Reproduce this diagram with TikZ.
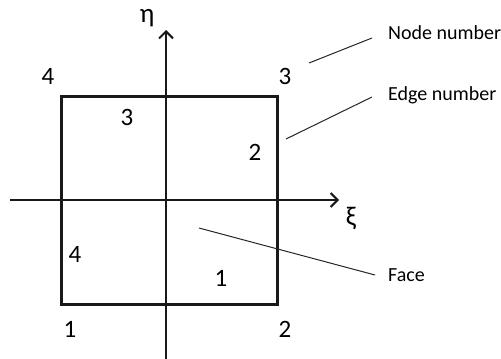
\documentclass[tikz,border=0pt]{standalone}
\usepackage{fontspec}
\setmainfont{Carlito}
\usetikzlibrary{arrows.meta}
\begin{document}
\begin{tikzpicture}[x=1pt,y=-1pt,
  num/.style={inner sep=0pt,font=\fontsize{25}{25}\selectfont},
  lab/.style={inner sep=0pt,anchor=base west,font=\fontsize{20}{22}\selectfont},
  greek/.style={inner sep=0pt,font=\fontsize{27}{27}\selectfont},
  axis/.style={line width=2pt,draw=black!90},
  elem/.style={line width=3pt,draw=black!90,line join=miter},
  leader/.style={line width=1pt,draw=black!85}]
\useasboundingbox (0,0) rectangle (501,359);
% element square
\coordinate (c1) at (61,304);
\coordinate (c2) at (277,304);
\coordinate (c3) at (277,96);
\coordinate (c4) at (61,96);
% axes
\coordinate (xs) at (10,200);
\coordinate (xe) at (339,200);
\coordinate (ys) at (166,359);
\coordinate (ye) at (166,30);
\draw[axis,-{Straight Barb[length=7pt,width=14pt,line width=2pt]}] (xs) -- (xe);
\draw[axis,-{Straight Barb[length=7pt,width=14pt,line width=2pt]}] (ys) -- (ye);
\draw[elem] (c1) -- (c2) -- (c3) -- (c4) -- cycle;
% axis labels
\node[greek] (eta) at (147,18) {η};
\node[greek] (xi) at (351,218) {ξ};
% node numbers
\node[num] (n1) at (70,329) {1};
\node[num] (n2) at (285,329) {2};
\node[num] (n3) at (285,76) {3};
\node[num] (n4) at (48,76) {4};
% edge numbers
\node[num] (e1) at (221,278) {1};
\node[num] (e2) at (255,152) {2};
\node[num] (e3) at (127,117) {3};
\node[num] (e4) at (75,254) {4};
% annotations
\node[lab] (tnode) at (388,39) {Node number};
\node[lab] (tedge) at (388,100) {Edge number};
\node[lab] (tface) at (388,281) {Face};
\coordinate (l1a) at (309,63);
\coordinate (l1b) at (372,38);
\coordinate (l2a) at (286,139);
\coordinate (l2b) at (372,97);
\coordinate (l3a) at (199,228);
\coordinate (l3b) at (375,275);
\draw[leader] (l1a) -- (l1b);
\draw[leader] (l2a) -- (l2b);
\draw[leader] (l3a) -- (l3b);
\end{tikzpicture}
\end{document}
